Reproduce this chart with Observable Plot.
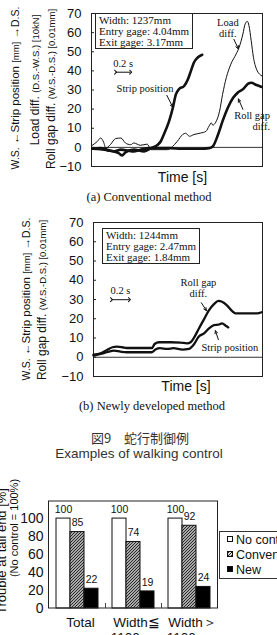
<!DOCTYPE html>
<html>
<head>
<meta charset="utf-8">
<script src="https://cdn.jsdelivr.net/npm/d3@7"></script>
<script src="https://cdn.jsdelivr.net/npm/@observablehq/plot@0.6"></script>
<style>
  body { margin: 0; background: #fff; }
  #fig { position: relative; width: 277px; height: 635px; overflow: hidden; background: #fff;
         font-family: "Liberation Sans", Arial, sans-serif; color: #111; }
  #fig svg { position: absolute; left: 0; }
  .t { position: absolute; white-space: nowrap; line-height: 1; transform: translate(-50%, -50%); }
  .rot { position: absolute; white-space: nowrap; line-height: 1; transform: translate(-50%, -50%) rotate(-90deg); }
  .serif { font-family: "Liberation Serif", "Times New Roman", serif; }
  .box { position: absolute; border: 1px solid #222; background: #fff; box-sizing: border-box; white-space: nowrap;
         font-family: "Liberation Serif", "Times New Roman", serif; font-size: 11px; line-height: 11px; padding: 1px 3px; }
  .legend { position: absolute; border: 1px solid #333; background: #fff; box-sizing: border-box; font-size: 12.5px; }
  .legend div { position: absolute; left: 16px; white-space: nowrap; line-height: 1; }
  .legend i { position: absolute; left: -9px; top: 2px; width: 6px; height: 6px; border: 1px solid #111; box-sizing: border-box; }
</style>
</head>
<body>
<div id="fig"></div>
<script>
// ---- (a) Conventional method: [time s, value] ----
const convStrip = [[0.01,-0.7],[0.12,-0.9],[0.21,-1.6],[0.30,-2.1],[0.36,-3.0],[0.41,-4.2],[0.45,-2.6],[0.56,-1.2],[0.70,-2.1],[0.79,-0.4],[0.88,1.4],[0.92,3.2],[0.96,6.7],[1.03,13.7],[1.08,20.7],[1.12,27.7],[1.16,30.4],[1.23,32.1],[1.28,35.6],[1.32,40.0],[1.36,44.4],[1.41,47.0],[1.47,48.4]];
const convLoad = [[0.01,1.1],[0.08,3.2],[0.12,4.9],[0.16,2.8],[0.19,-0.4],[0.25,1.4],[0.32,4.6],[0.39,4.9],[0.45,2.3],[0.52,1.4],[0.56,2.3],[0.65,1.1],[0.74,1.7],[0.79,-1.2],[0.88,-1.2],[1.01,-1.2],[1.05,-0.4],[1.10,1.4],[1.14,3.2],[1.21,6.7],[1.25,7.4],[1.30,5.8],[1.36,6.7],[1.45,7.5],[1.52,8.4],[1.56,11.1],[1.59,12.8],[1.61,11.6],[1.65,13.2],[1.70,18.9],[1.74,27.7],[1.79,36.5],[1.85,43.5],[1.92,48.8],[1.96,52.3],[2.01,59.3],[2.04,64.6],[2.07,65.9],[2.09,63.7],[2.12,55.8],[2.15,47.0],[2.19,40.9],[2.23,38.3],[2.26,37.4]];
const convGap = [[0.01,-0.7],[0.12,-0.4],[0.21,-1.2],[0.30,-2.1],[0.39,-1.2],[0.48,-1.6],[0.56,-2.1],[0.65,-1.2],[0.79,-0.4],[0.92,-0.4],[1.05,-0.4],[1.19,-0.7],[1.32,-0.7],[1.45,-0.7],[1.56,-0.4],[1.61,0.5],[1.68,6.7],[1.74,13.7],[1.81,20.7],[1.88,25.9],[1.94,28.6],[2.01,30.4],[2.08,33.3],[2.12,33.8],[2.19,32.6],[2.26,31.6]];
const convInfo = ["Width: 1237mm", "Entry gage: 4.04mm", "Exit gage: 3.17mm"];
const convLabels = [
  {t: 0.71, v: 30.9, text: "Strip position", anchor: "middle"},
  {t: 1.81, v: 62.4, text: "Load\ndiff.", anchor: "middle"},
  {t: 2.37, v: 14.0, text: "Roll gap\ndiff.", anchor: "end"}
];
const convArrows = [
  {t1: 1.00, v1: 27.2, t2: 1.08, v2: 21.0},
  {t1: 1.89, v1: 56.5, t2: 1.95, v2: 51.5},
  {t1: 2.01, v1: 19.9, t2: 1.95, v2: 25.3}
];
const convScale = {t: 0.32, v: 39.3, text: "0.2 s", textV: 44};

// ---- (b) Newly developed method ----
const newGap = [[0.00,1.4],[0.08,2.1],[0.15,3.8],[0.21,5.2],[0.26,5.5],[0.32,5.2],[0.37,4.8],[0.52,4.8],[0.65,4.8],[0.68,6.9],[0.73,7.8],[0.86,7.8],[0.97,7.6],[1.04,7.2],[1.08,7.8],[1.12,10.3],[1.17,14.7],[1.23,19.8],[1.28,24.1],[1.34,27.6],[1.39,29.3],[1.43,28.8],[1.49,26.7],[1.54,24.1],[1.58,22.8],[1.63,22.8],[1.74,22.8],[1.82,22.8],[1.87,23.4]];
const newStrip = [[0.00,0.9],[0.08,1.7],[0.15,2.6],[0.23,3.4],[0.30,2.9],[0.37,2.6],[0.52,2.6],[0.65,2.6],[0.69,4.0],[0.74,4.7],[0.82,4.3],[0.89,4.7],[0.99,4.0],[1.06,4.3],[1.12,6.9],[1.17,10.7],[1.23,12.4],[1.28,14.7],[1.34,16.7],[1.39,16.9],[1.43,17.6],[1.47,16.4],[1.50,15.5]];
const newInfo = ["Width: 1244mm", "Entry gage: 2.47mm", "Exit gage: 1.84mm"];
const newLabels = [
  {t: 1.167, v: 36.1, text: "Roll gap\ndiff.", anchor: "middle"},
  {t: 1.517, v: 5.0, text: "Strip position", anchor: "middle"}
];
const newArrows = [
  {t1: 1.20, v1: 28.3, t2: 1.256, v2: 24.2},
  {t1: 1.389, v1: 9.2, t2: 1.356, v2: 13.8}
];
const newScale = {t: 0.20, v: 29.9, text: "0.2 s", textV: 34.5};

const yTicks = [-10, 0, 10, 20, 30, 40, 50, 60, 70];

// ---- Trouble at tail end, by strip width ----
const groups = ["Total", "Width≦\n1100mm", "Width＞\n1100mm"];
const methods = ["No control", "Conventional", "New"];
const noControl = [100, 100, 100];
const conventional = [85, 74, 92];
const newMethod = [22, 19, 24];
const barTicks = [0, 20, 40, 60, 80, 100];

const fig = document.getElementById("fig");
const serif = "Liberation Serif, Times New Roman, serif";

function traceChart({traces, labels, arrows, scale, xMax, top, marginLeft, marginTop, marginBottom, height}) {
  const svg = Plot.plot({
    width: 277, height, marginLeft, marginRight: 15, marginTop, marginBottom,
    x: {domain: [0, xMax], axis: null},
    y: {domain: [-10, 70], axis: null},
    style: {fontFamily: "Liberation Sans, Arial, sans-serif", color: "#111", background: "transparent"},
    marks: [
      Plot.frame({stroke: "#222", strokeWidth: 1}),
      Plot.ruleY([0], {stroke: "#333", strokeWidth: 1}),
      Plot.axisY(yTicks, {tickSize: 0, tickPadding: 10, fontSize: 13, fill: "#111", label: null}),
      Plot.axisY(yTicks.slice(1, -1), {tickSize: 3, dx: 3, stroke: "#222", tickFormat: () => "", label: null}),
      ...traces.map(({data, w}) => Plot.line(data, {x: d => d[0], y: d => d[1], stroke: "#111", strokeWidth: w, curve: "monotone-x", strokeLinejoin: "round"})),
      ...["middle", "end"].map(a => Plot.text(labels.filter(d => d.anchor === a), {x: "t", y: "v", text: "text", textAnchor: a, fontFamily: serif, fontSize: 10.5, lineHeight: 1.05, fill: "#111"})),
      Plot.arrow(arrows, {x1: "t1", y1: "v1", x2: "t2", y2: "v2", stroke: "#111", strokeWidth: 1, headLength: 5, headAngle: 50}),
      Plot.link([scale], {x1: d => d.t, x2: d => d.t + 0.2, y1: "v", y2: "v", stroke: "#111", strokeWidth: 1, markerStart: "arrow", markerEnd: "arrow"}),
      Plot.text([scale], {x: d => d.t + 0.1, y: "textV", text: "text", fontFamily: serif, fontSize: 10.5, fill: "#111"})
    ]
  });
  svg.style.top = top + "px";
  fig.appendChild(svg);
}

traceChart({
  traces: [{data: convLoad, w: 1}, {data: convGap, w: 2.6}, {data: convStrip, w: 2.6}],
  labels: convLabels, arrows: convArrows, scale: convScale,
  xMax: 2.27, top: 0, marginLeft: 91, marginTop: 13, marginBottom: 16, height: 182
});
traceChart({
  traces: [{data: newGap, w: 2.3}, {data: newStrip, w: 2.3}],
  labels: newLabels, arrows: newArrows, scale: newScale,
  xMax: 1.88, top: 200, marginLeft: 93, marginTop: 22, marginBottom: 10, height: 186
});

// grouped bars
const barRows = groups.flatMap((g, i) => [
  {group: g, method: methods[0], value: noControl[i]},
  {group: g, method: methods[1], value: conventional[i]},
  {group: g, method: methods[2], value: newMethod[i]}
]);

const bars = Plot.plot({
  width: 277, height: 163, marginLeft: 48, marginRight: 60, marginTop: 21, marginBottom: 35,
  fx: {domain: groups, padding: 0, label: null},
  x: {domain: methods, axis: null, paddingInner: 0, paddingOuter: 0.37},
  y: {domain: [0, 119], axis: null},
  color: {type: "ordinal", domain: methods, range: ["#fff", "url(#hatch)", "#000"]},
  style: {fontFamily: "Liberation Sans, Arial, sans-serif", color: "#111", background: "transparent"},
  marks: [
    Plot.barY(barRows, {fx: "group", x: "method", y: "value", fill: "method", stroke: "#111", strokeWidth: 1}),
    Plot.text(barRows, {fx: "group", x: "method", y: "value", text: d => String(d.value), dy: -9, fontSize: 10.5, fill: "#111"}),
    Plot.axisY(barTicks, {tickSize: 0, tickPadding: 6, fontSize: 14, fill: "#111", label: null}),
    Plot.axisFx({anchor: "bottom", tickSize: 0, tickPadding: 8, fontSize: 13.5, lineHeight: 1.1, dx: 3, fill: "#111", label: null})
  ]
});
bars.style.top = "480px";
fig.appendChild(bars);

// hatch fill, outer frame and the small separators between groups
const sel = d3.select(bars);
const pat = sel.insert("defs", ":first-child").append("pattern")
  .attr("id", "hatch").attr("patternUnits", "userSpaceOnUse").attr("width", 3).attr("height", 3);
pat.append("rect").attr("width", 3).attr("height", 3).attr("fill", "#ddd");
pat.append("path").attr("d", "M-1,1 l2,-2 M0,3 l3,-3 M2,4 l2,-2").attr("stroke", "#222").attr("stroke-width", 1.1);

const fxS = bars.scale("fx"), yS = bars.scale("y");
const [fx0, fx1] = fxS.range, [yb, yt] = yS.range;
sel.append("rect").attr("x", fx0 + 0.5).attr("y", yt).attr("width", fx1 - fx0).attr("height", yb - yt)
  .attr("fill", "none").attr("stroke", "#222");
groups.slice(1).forEach(g => {
  const x = fxS.apply(g) + 0.5;
  sel.append("line").attr("x1", x).attr("x2", x).attr("y1", yb).attr("y2", yb - 5).attr("stroke", "#444");
});

// text around the charts
function add(html, cls, style) {
  const el = document.createElement("div");
  el.className = cls;
  el.innerHTML = html;
  Object.assign(el.style, style);
  fig.appendChild(el);
  return el;
}
const sm = s => `<span style="font-size:9.5px">${s}</span>`;

// (a) axis titles
add(`<span style="font-size:10.5px">W.S.</span> ←Strip position ${sm("[mm]")} →<span style="font-size:10.5px">D.S.</span>`, "rot", {left: "16px", top: "88px", fontSize: "11.5px"});
add(`Load diff. ${sm("(D.S.-W.S.) [10kN]")}`, "rot", {left: "35px", top: "80px", fontSize: "12px"});
add(`Roll gap diff. ${sm("(W.S.-D.S.) [0.01mm]")}`, "rot", {left: "51px", top: "88.5px", fontSize: "12px"});
add("Time [s]", "t", {left: "182.5px", top: "177px", fontSize: "14px"});
add(convInfo.join("<br>"), "box", {left: "95px", top: "13px", width: "98px", height: "36px"});
add("(a) Conventional method", "t serif", {left: "149px", top: "197px", fontSize: "12.5px"});

// (b) axis titles
add(`<span style="font-size:10.5px">W.S.</span> ←Strip position ${sm("[mm]")} →<span style="font-size:10.5px">D.S.</span>`, "rot", {left: "27px", top: "298.5px", fontSize: "11.5px"});
add(`Roll gap diff. ${sm("(W.S.-D.S.) [0.01mm]")}`, "rot", {left: "42px", top: "299.5px", fontSize: "12px"});
add("Time [s]", "t", {left: "186px", top: "386px", fontSize: "14px"});
add(newInfo.join("<br>"), "box", {left: "102px", top: "228px", width: "98px", height: "36px"});
add("(b) Newly developed method", "t serif", {left: "152px", top: "406px", fontSize: "12.5px"});

// figure title
add("図9　蛇行制御例", "t", {left: "140px", top: "437px", fontSize: "13px", fontFamily: "Noto Sans CJK JP, sans-serif", color: "#333", lineHeight: "13px"});
add("Examples of walking control", "t", {left: "139px", top: "454px", fontSize: "13.5px", color: "#333"});

// bar chart axis title
add("Trouble at tail end [%]", "rot", {left: "1px", top: "551px", fontSize: "13px"});
add("(No control = 100%)", "rot", {left: "14px", top: "528px", fontSize: "11px"});

// legend
const lg = add("", "legend", {left: "219px", top: "531px", width: "80px", height: "48px"});
const swatches = ["#fff", "repeating-linear-gradient(135deg,#222 0 1px,#ddd 1px 2.2px)", "#000"];
methods.forEach((m, i) => {
  const d = document.createElement("div");
  d.style.top = (2 + i * 15) + "px";
  d.innerHTML = `<i style="background:${swatches[i]}"></i>${m}`;
  lg.appendChild(d);
});
</script>
</body>
</html>
